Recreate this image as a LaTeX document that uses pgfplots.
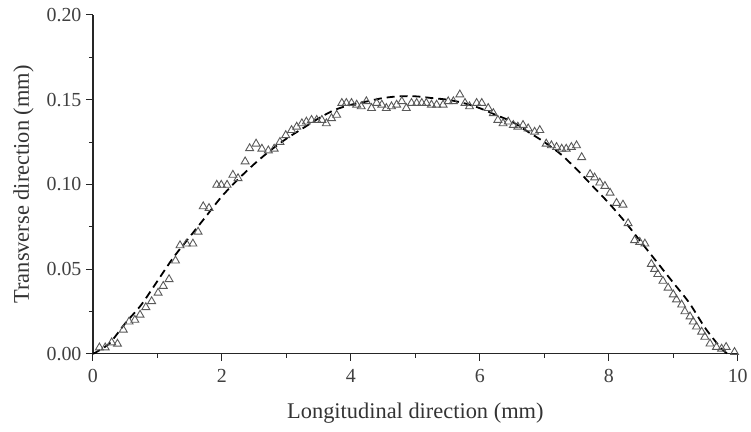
\documentclass[border=0pt]{standalone}
\usepackage{fontspec}
\setmainfont{Liberation Serif}
\usepackage{pgfplots}
\pgfplotsset{compat=1.18}

% measured points (triangles)
\pgfplotstableread{
x y
0.10 0.0037
0.19 0.0037
0.29 0.0067
0.38 0.0059
0.47 0.0142
0.56 0.019
0.65 0.020
0.73 0.023
0.82 0.0275
0.91 0.031
1.01 0.036
1.09 0.040
1.18 0.044
1.28 0.055
1.35 0.064
1.45 0.065
1.55 0.065
1.63 0.072
1.71 0.087
1.80 0.086
1.92 0.0997
1.99 0.0997
2.08 0.0997
2.17 0.1056
2.25 0.1036
2.36 0.1135
2.43 0.1213
2.53 0.124
2.62 0.121
2.72 0.120
2.81 0.121
2.90 0.125
2.99 0.129
3.08 0.132
3.16 0.134
3.24 0.136
3.31 0.137
3.39 0.138
3.47 0.138
3.55 0.138
3.62 0.136
3.70 0.139
3.78 0.141
3.86 0.148
3.93 0.148
4.01 0.148
4.09 0.147
4.16 0.146
4.24 0.149
4.32 0.145
4.40 0.148
4.48 0.147
4.55 0.145
4.63 0.146
4.71 0.147
4.79 0.149
4.86 0.145
4.94 0.148
5.02 0.148
5.10 0.148
5.17 0.148
5.25 0.147
5.33 0.147
5.43 0.147
5.51 0.149
5.59 0.149
5.69 0.153
5.77 0.148
5.84 0.146
5.95 0.148
6.03 0.148
6.13 0.145
6.21 0.142
6.28 0.138
6.36 0.136
6.44 0.137
6.52 0.135
6.59 0.134
6.67 0.135
6.75 0.133
6.85 0.131
6.93 0.132
7.03 0.124
7.11 0.123
7.19 0.122
7.27 0.121
7.34 0.121
7.42 0.122
7.50 0.123
7.58 0.116
7.71 0.106
7.78 0.104
7.86 0.101
7.94 0.099
8.02 0.095
8.12 0.089
8.22 0.088
8.30 0.077
8.40 0.067
8.48 0.066
8.56 0.065
8.66 0.053
8.71 0.050
8.76 0.047
8.84 0.043
8.92 0.039
9.00 0.035
9.05 0.032
9.13 0.029
9.18 0.025
9.26 0.022
9.31 0.019
9.36 0.016
9.44 0.013
9.49 0.010
9.57 0.006
9.67 0.004
9.75 0.003
9.82 0.004
9.95 0.001
}\measured

% fitted curve (dashed)
\pgfplotstableread{
x y
0.00 0.000
0.25 0.006
0.50 0.018
0.75 0.029
1.00 0.043
1.25 0.057
1.50 0.069
1.75 0.081
2.00 0.093
2.25 0.103
2.50 0.112
2.75 0.120
3.00 0.127
3.25 0.133
3.50 0.139
3.75 0.144
4.00 0.147
4.25 0.149
4.50 0.151
4.75 0.152
5.00 0.152
5.25 0.151
5.50 0.150
5.75 0.148
6.00 0.145
6.25 0.141
6.50 0.137
6.75 0.131
7.00 0.125
7.25 0.118
7.50 0.109
7.75 0.099
8.00 0.089
8.25 0.078
8.50 0.066
8.75 0.054
9.00 0.042
9.25 0.030
9.50 0.015
9.75 0.003
9.85 0.000
}\fitted

\begin{document}
\begin{tikzpicture}
\begin{axis}[
    scale only axis,
    width=645bp, height=339bp,
    xmin=0, xmax=10,
    ymin=0, ymax=0.20,
    axis lines*=left,
    axis line style={-, line width=1.2pt, black!85},
    xtick={0,2,4,6,8,10},
    ytick={0,0.05,0.10,0.15,0.20},
    minor x tick num=1,
    minor y tick num=1,
    tick align=outside,
    major tick length=7bp,
    minor tick length=4bp,
    tick style={line width=1pt, black!85},
    /pgf/number format/assume math mode=true,
    ticklabel style={font=\fontsize{20}{23}\selectfont, text=black!75},
    xticklabel style={yshift=-5bp},
    yticklabel style={xshift=-1bp, /pgf/number format/.cd, fixed, fixed zerofill, precision=2},
    xlabel={Longitudinal direction (mm)},
    ylabel={Transverse direction (mm)},
    label style={font=\fontsize{22.5}{26}\selectfont, text=black!80},
    xlabel style={yshift=-13bp},
    ylabel style={yshift=6bp},
    clip=false,
]
\addplot[only marks, mark=triangle, mark size=4.6pt,
         mark options={draw=black!65, line width=0.9pt}]
    table[x=x, y=y] {\measured};
\addplot[smooth, black, line width=1.8pt, dash pattern=on 8pt off 5pt]
    table[x=x, y=y] {\fitted};
\end{axis}
\path ([xshift=-93bp,yshift=354bp]current axis.south west)
    rectangle ([xshift=658bp,yshift=-78bp]current axis.south west);
\end{tikzpicture}
\end{document}
